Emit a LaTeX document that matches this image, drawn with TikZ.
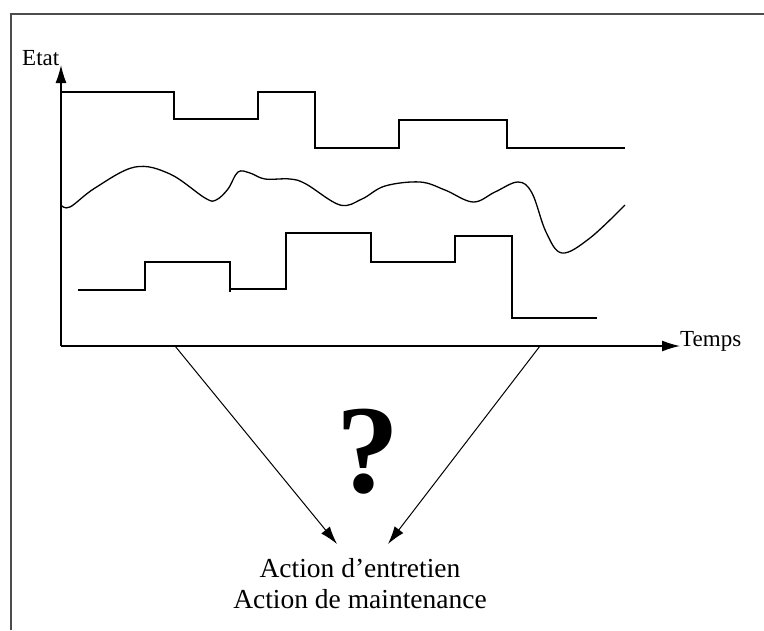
\documentclass[tikz,border=0pt]{standalone}
\usepackage{fontspec}
\setmainfont{Liberation Serif}
\usetikzlibrary{arrows.meta,positioning}
\tikzset{
	axis/.style={-{Latex[length=18pt,width=11pt]},line width=1.3pt},
	signal/.style={line width=1.3pt,line join=miter},
	link/.style={-{Latex[length=18pt,width=11pt]},line width=1pt},
	frame/.style={line width=1.8pt,gray!60!black},
	lbl/.style={inner sep=0pt,font=\fontsize{23}{27}\selectfont}
}

\begin{document}
\begin{tikzpicture}[x=1pt,y=-1pt]
            \useasboundingbox (0,0) rectangle (764,630);
            \draw[frame] (11,630) -- (11,14) -- (764,14);
            % axes
            \coordinate (o) at (61,346);
            \coordinate (ytop) at (61,65);
            \coordinate (xend) at (680,346);
            \draw[axis] (o) -- (ytop);
            \draw[axis] (o) -- (xend);
            \node[lbl,anchor=base west] (etat) at (22,65) {Etat};
            \node[lbl,anchor=base west] (temps) at (680,346) {Temps};
            % three state signals
            \draw[signal] (61,92) -| (174,119) -| (258,92) -| (315,148) -| (399,120) -| (507,148) -- (625,148);
            \draw[signal] plot[smooth,tension=0.6] coordinates {(61,205) (70,207) (95,188) (135,167) (170,174) (205,198) (216,200) (228,189) (238,172) (250,173) (265,179) (290,179) (306,184) (340,205) (362,199) (385,186) (420,182) (445,190) (473,202) (495,192) (518,182) (532,193) (546,232) (562,253) (590,238) (625,205)};
            \draw[signal] (78,290) -| (145,262) -| (230,292);
            \draw[signal] (230,289) -| (286,233) -| (371,262) -| (455,236) -| (512,318) -- (597,318);
            % towards the action
            \coordinate (t1) at (175,346);
            \coordinate (t2) at (540,346);
            \coordinate (h1) at (337,544);
            \coordinate (h2) at (388,544);
            \draw[link] (t1) -- (h1);
            \draw[link] (t2) -- (h2);
            \node[inner sep=0pt,font=\fontsize{126}{126}\selectfont\bfseries,anchor=base] (quest) at (368,492) {?};
            \node[inner sep=0pt,align=center,font=\fontsize{27.5}{31}\selectfont,anchor=base] (action) at (360,608) {Action d’entretien\\Action de maintenance};
        \end{tikzpicture}
\end{document}
